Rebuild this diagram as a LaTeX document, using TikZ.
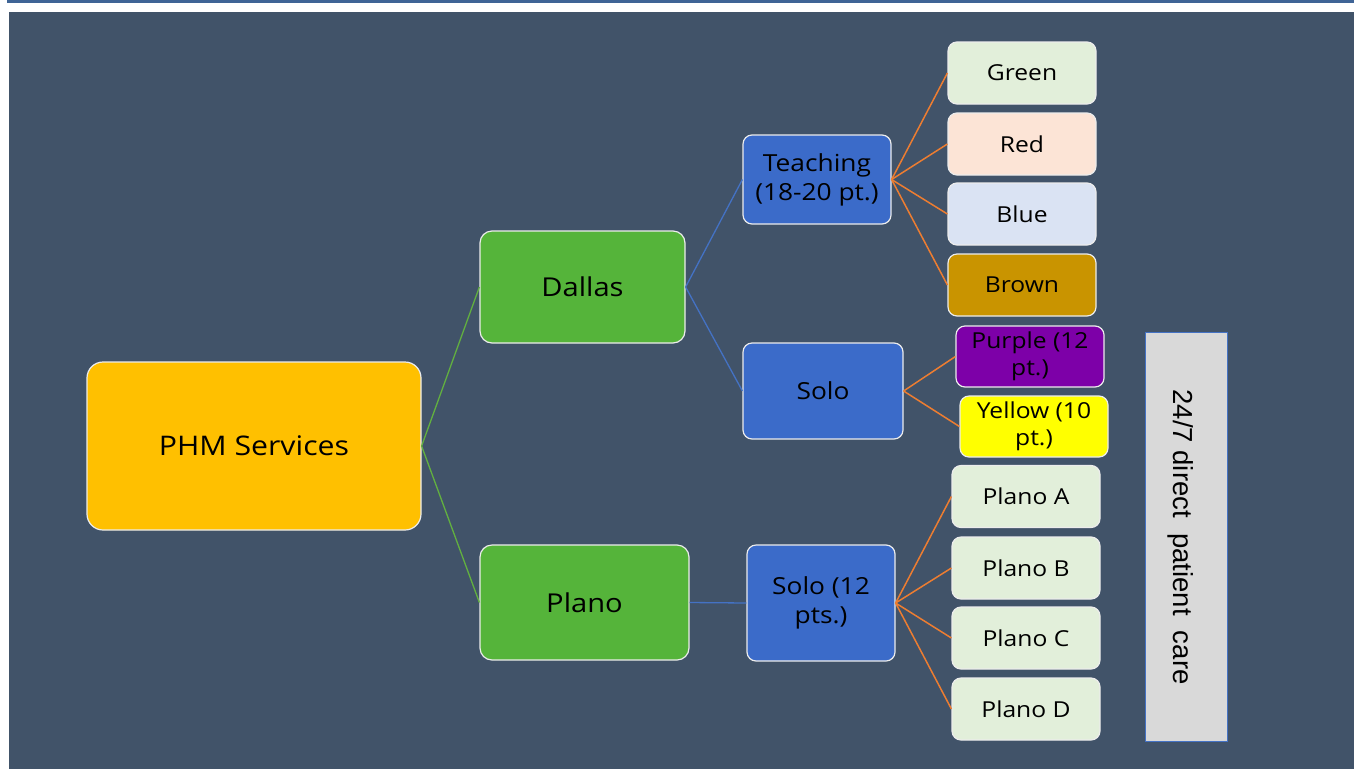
\documentclass[tikz,border=0pt]{standalone}
\usepackage{fontspec}
\setmainfont{Open Sans}[FakeStretch=1.12]
\newfontfamily\arialf{Liberation Sans}
\definecolor{bgc}{HTML}{415369}
\definecolor{topline}{HTML}{3F6496}
\definecolor{phm}{HTML}{FFC000}
\definecolor{grn}{HTML}{55B43A}
\definecolor{blu}{HTML}{3B6BC9}
\definecolor{lgreen}{HTML}{E2EFDA}
\definecolor{lred}{HTML}{FCE4D6}
\definecolor{lblue}{HTML}{DAE3F3}
\definecolor{brn}{HTML}{C99400}
\definecolor{prp}{HTML}{7D00A8}
\definecolor{ylw}{HTML}{FFFF00}
\definecolor{gry}{HTML}{D9D9D9}
\definecolor{glink}{HTML}{62B040}
\definecolor{blink}{HTML}{4472C4}
\definecolor{olink}{HTML}{ED7D31}
\tikzset{
  box/.style={draw=white!85!gray, line width=1.2pt, rounded corners=9pt, inner sep=0pt, align=center, text=black},
  leaf/.style={box, minimum width=148pt, minimum height=62pt, font=\fontsize{22}{27}\selectfont},
  mid/.style={box, fill=blu, font=\fontsize{23.5}{29}\selectfont},
  glinkst/.style={glink, line width=1.3pt},
  blinkst/.style={blink, line width=1.3pt},
  olinkst/.style={olink, line width=1.5pt},
}
\begin{document}
\begin{tikzpicture}[x=1pt,y=-1pt]
\useasboundingbox (0,0) rectangle (1354,769);
\fill[white] (0,0) rectangle (1354,769);
\fill[bgc] (9,12) rectangle (1354,769);
\fill[topline] (7,0) rectangle (1354,2.5);
% main nodes
\node[box, fill=phm, minimum width=334pt, minimum height=168pt, rounded corners=16pt, font=\fontsize{27}{30}\selectfont] (phm) at (254,446) {PHM Services};
\node[box, fill=grn, minimum width=205pt, minimum height=112pt, rounded corners=12pt, font=\fontsize{26}{30}\selectfont] (dallas) at (582.5,287) {Dallas};
\node[box, fill=grn, minimum width=209pt, minimum height=115pt, rounded corners=12pt, font=\fontsize{26}{30}\selectfont] (plano) at (584.5,602.5) {Plano};
\node[mid, minimum width=148pt, minimum height=89pt] (teach) at (817,179.5) {Teaching\\(18-20 pt.)};
\node[mid, minimum width=160pt, minimum height=96pt] (solo) at (823,391) {Solo};
\node[mid, minimum width=148pt, minimum height=116pt] (solo12) at (821,603) {Solo (12\\pts.)};
% leaves
\node[leaf, fill=lgreen] (green) at (1022,73) {Green};
\node[leaf, fill=lred] (red) at (1022,144) {Red};
\node[leaf, fill=lblue] (blue) at (1022,214) {Blue};
\node[leaf, fill=brn] (brown) at (1022,285) {Brown};
\node[leaf, fill=prp, minimum height=61pt] (purple) at (1030,356.5) {Purple (12\\pt.)};
\node[leaf, fill=ylw, minimum height=61pt] (yellow) at (1034,426.5) {Yellow (10\\pt.)};
\node[leaf, fill=lgreen] (pa) at (1026,496.5) {Plano A};
\node[leaf, fill=lgreen] (pb) at (1026,568) {Plano B};
\node[leaf, fill=lgreen] (pc) at (1026,638) {Plano C};
\node[leaf, fill=lgreen] (pd) at (1026,709) {Plano D};
% side bar
\node[draw=blink, line width=0.6pt, fill=gry, minimum width=82pt, minimum height=409pt, inner sep=0pt] (care) at (1186,536.5) {};
\node[rotate=-90, font=\arialf\fontsize{27.5}{30}\selectfont, text=black] (caretxt) at (1181,537) {24/7 direct\ \ patient\ \ care};
% connectors
\draw[glinkst] (phm.east) -- (dallas.west);
\draw[glinkst] (phm.east) -- (plano.west);
\draw[blinkst] (dallas.east) -- (teach.west);
\draw[blinkst] (dallas.east) -- (solo.west);
\draw[blinkst] (plano.east) -- (solo12.west);
\foreach \t in {green,red,blue,brown} \draw[olinkst] (teach.east) -- (\t.west);
\foreach \t in {purple,yellow} \draw[olinkst] (solo.east) -- (\t.west);
\foreach \t in {pa,pb,pc,pd} \draw[olinkst] (solo12.east) -- (\t.west);
\end{tikzpicture}
\end{document}
